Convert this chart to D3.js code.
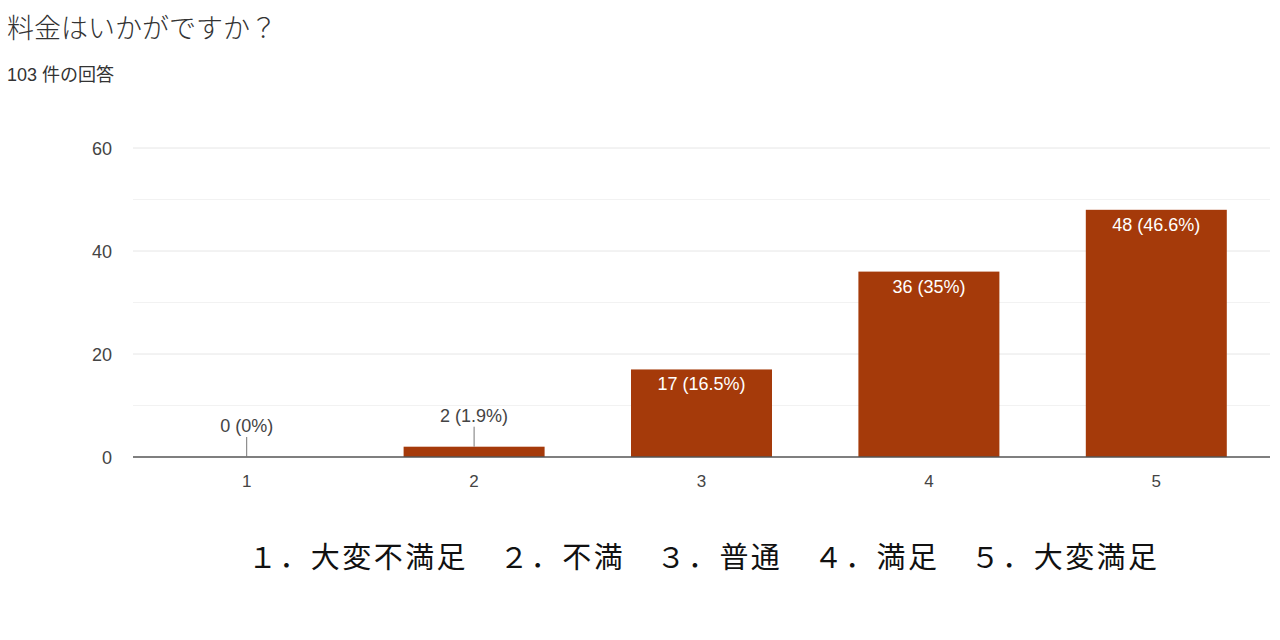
<!DOCTYPE html>
<html>
<head>
<meta charset="utf-8">
<script src="https://cdn.jsdelivr.net/npm/d3@7"></script>
<style>
  body { margin: 0; background: #fff; }
  svg { display: block; }
</style>
</head>
<body>
<script>
// Chart values
const categories = ["1", "2", "3", "4", "5"];
const counts = [0, 2, 17, 36, 48];
const percents = ["0%", "1.9%", "16.5%", "35%", "46.6%"];
const yTicks = [0, 20, 40, 60];
const title = "料金はいかがですか？";
const subtitle = "103 件の回答";
const legendText = "１．大変不満足　２．不満　３．普通　４．満足　５．大変満足";

const width = 1280;
const height = 640;
const margin = { top: 148, right: 10, bottom: 183, left: 133 };
const barColor = "#a53a0a";
const numFont = "'Liberation Sans', Arial, 'Noto Sans CJK JP', sans-serif";

const svg = d3.select("body")
    .append("svg")
    .attr("width", width)
    .attr("height", height);

const xScale = d3.scaleBand()
    .domain(categories)
    .range([margin.left, width - margin.right])
    .paddingInner(0.38)
    .paddingOuter(0.19);

const yScale = d3.scaleLinear()
    .domain([0, 60])
    .range([height - margin.bottom, margin.top]);

// Gridlines (major + minor)
svg.append("g")
    .selectAll("line")
    .data(d3.range(10, 61, 10))
    .join("line")
    .attr("x1", margin.left)
    .attr("x2", width - margin.right)
    .attr("y1", d => yScale(d))
    .attr("y2", d => yScale(d))
    .attr("stroke", d => d % 20 === 0 ? "#e6e6e6" : "#f2f2f2")
    .attr("stroke-width", 1);

// Y axis labels
svg.append("g")
    .selectAll("text")
    .data(yTicks)
    .join("text")
    .attr("x", margin.left - 21)
    .attr("y", d => yScale(d) + 7)
    .attr("text-anchor", "end")
    .attr("font-family", numFont)
    .attr("font-size", 18)
    .attr("fill", "#444")
    .text(d => d);

const data = categories.map((c, i) => ({ cat: c, value: counts[i], pct: percents[i] }));

// Bars
svg.append("g")
    .selectAll("rect")
    .data(data)
    .join("rect")
    .attr("x", d => xScale(d.cat))
    .attr("y", d => yScale(d.value))
    .attr("width", xScale.bandwidth())
    .attr("height", d => yScale(0) - yScale(d.value))
    .attr("fill", barColor);

// Baseline
svg.append("line")
    .attr("x1", margin.left)
    .attr("x2", width - margin.right)
    .attr("y1", yScale(0))
    .attr("y2", yScale(0))
    .attr("stroke", "#555")
    .attr("stroke-width", 1.5);

// Value labels: inside for tall bars, above with leader for small bars
data.forEach(d => {
    const cx = xScale(d.cat) + xScale.bandwidth() / 2;
    const label = `${d.value} (${d.pct})`;
    const barH = yScale(0) - yScale(d.value);
    if (barH > 30) {
        svg.append("text")
            .attr("x", cx)
            .attr("y", yScale(d.value) + 21)
            .attr("text-anchor", "middle")
            .attr("font-family", numFont)
            .attr("font-size", 18)
            .attr("fill", "#fff")
            .text(label);
    } else {
        const top = yScale(d.value);
        svg.append("line")
            .attr("x1", cx)
            .attr("x2", cx)
            .attr("y1", top - 20)
            .attr("y2", top)
            .attr("stroke", "#777")
            .attr("stroke-width", 1);
        svg.append("text")
            .attr("x", cx)
            .attr("y", top - 25)
            .attr("text-anchor", "middle")
            .attr("font-family", numFont)
            .attr("font-size", 18)
            .attr("fill", "#444")
            .text(label);
    }
});

// X axis labels
svg.append("g")
    .selectAll("text")
    .data(categories)
    .join("text")
    .attr("x", d => xScale(d) + xScale.bandwidth() / 2)
    .attr("y", yScale(0) + 30)
    .attr("text-anchor", "middle")
    .attr("font-family", numFont)
    .attr("font-size", 17)
    .attr("fill", "#444")
    .text(d => d);

// Title and response count
svg.append("text")
    .attr("x", 7)
    .attr("y", 38)
    .attr("font-family", "'Noto Sans CJK JP', sans-serif")
    .attr("font-weight", 300)
    .attr("font-size", 27)
    .attr("fill", "#333")
    .text(title);

svg.append("text")
    .attr("x", 7)
    .attr("y", 81)
    .attr("font-family", numFont)
    .attr("font-size", 18)
    .attr("fill", "#333")
    .text(subtitle);

// Category legend below chart
svg.append("text")
    .attr("x", 248)
    .attr("y", 568)
    .attr("textLength", 909)
    .attr("lengthAdjust", "spacing")
    .attr("font-family", "'Noto Sans CJK JP', sans-serif")
    .attr("font-size", 29)
    .attr("fill", "#111")
    .text(legendText);
</script>
</body>
</html>
